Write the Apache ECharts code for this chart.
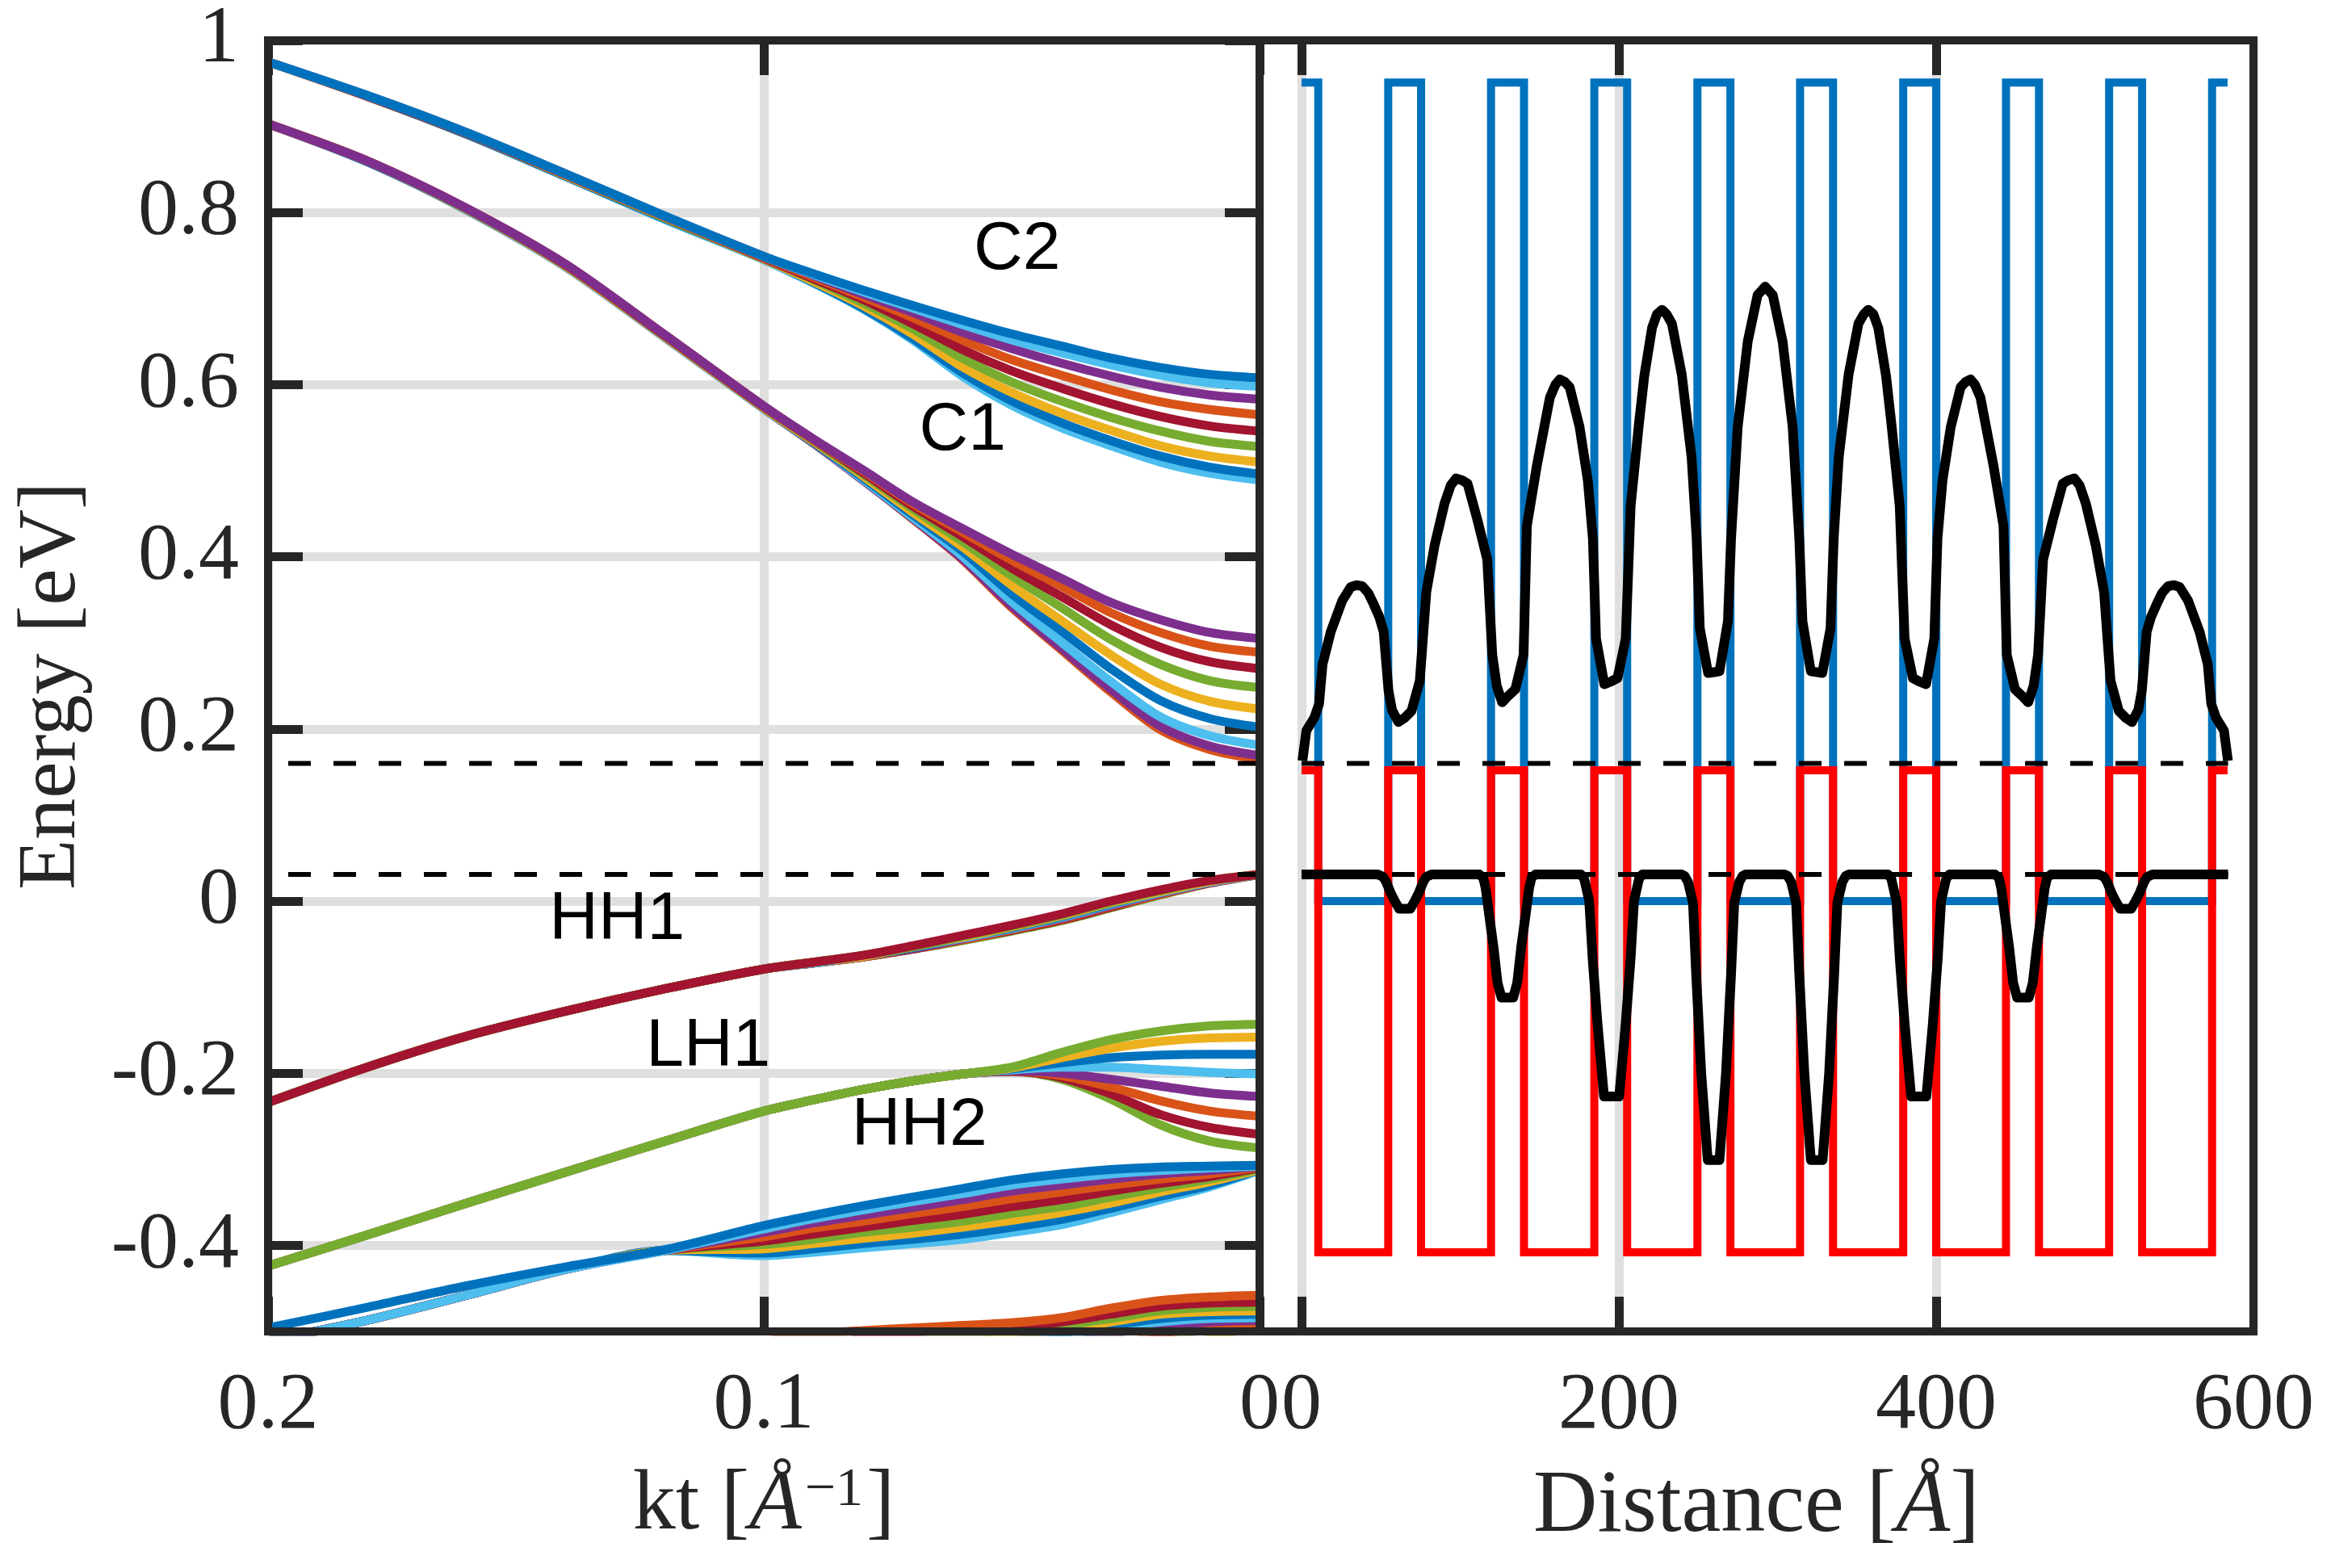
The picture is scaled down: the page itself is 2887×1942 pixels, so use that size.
<!DOCTYPE html>
<html>
<head>
<meta charset="utf-8">
<title>Superlattice band structure</title>
<script src="https://cdn.jsdelivr.net/npm/echarts@6.0.0/dist/echarts.min.js"></script>
<style>
  html, body { margin: 0; padding: 0; background: #fff; }
  #chart { width: 2887px; height: 1942px; }
</style>
</head>
<body>
<div id="chart"></div>
<script>
// kt sample points shared by every dispersion curve [1/Angstrom]
const KT = [0.2, 0.18, 0.16, 0.14, 0.12, 0.1, 0.09, 0.08, 0.07, 0.06, 0.05, 0.04, 0.03, 0.02, 0.01, 0];

const COL = {
  blue: '#0072BD', orange: '#D95319', yellow: '#EDB120', purple: '#7E2F8E',
  green: '#77AC30', lblue: '#4DBEEE', dred: '#A2142F'
};

// C2 miniband, listed top to bottom (at kt = 0)
const c2Colors = ['blue', 'lblue', 'purple', 'orange', 'dred', 'green', 'yellow', 'blue', 'lblue'];
const c2Bands = [
  [0.975, 0.936, 0.893, 0.845, 0.796, 0.749, 0.729, 0.710, 0.692, 0.675, 0.659, 0.645, 0.631, 0.620, 0.612, 0.608],
  [0.975, 0.936, 0.893, 0.845, 0.796, 0.749, 0.728, 0.708, 0.689, 0.670, 0.652, 0.637, 0.623, 0.611, 0.602, 0.598],
  [0.975, 0.936, 0.893, 0.845, 0.796, 0.749, 0.727, 0.705, 0.684, 0.661, 0.642, 0.625, 0.610, 0.597, 0.588, 0.583],
  [0.975, 0.936, 0.893, 0.845, 0.795, 0.748, 0.725, 0.702, 0.678, 0.652, 0.629, 0.611, 0.594, 0.580, 0.571, 0.565],
  [0.975, 0.935, 0.892, 0.844, 0.795, 0.747, 0.723, 0.699, 0.671, 0.641, 0.616, 0.596, 0.578, 0.563, 0.552, 0.546],
  [0.975, 0.935, 0.892, 0.844, 0.794, 0.747, 0.722, 0.695, 0.665, 0.631, 0.603, 0.581, 0.562, 0.546, 0.534, 0.528],
  [0.975, 0.935, 0.892, 0.843, 0.794, 0.746, 0.720, 0.692, 0.659, 0.621, 0.591, 0.567, 0.547, 0.529, 0.517, 0.510],
  [0.975, 0.935, 0.891, 0.842, 0.793, 0.746, 0.719, 0.689, 0.654, 0.614, 0.581, 0.556, 0.535, 0.517, 0.504, 0.496],
  [0.975, 0.935, 0.891, 0.842, 0.792, 0.745, 0.718, 0.688, 0.652, 0.610, 0.576, 0.550, 0.529, 0.510, 0.497, 0.489]
];

// C1 miniband
const c1Colors = ['purple', 'orange', 'dred', 'green', 'yellow', 'blue', 'lblue', 'purple', 'orange'];
const c1Bands = [
  [0.903, 0.860, 0.805, 0.740, 0.658, 0.575, 0.537, 0.501, 0.464, 0.433, 0.403, 0.375, 0.347, 0.327, 0.312, 0.305],
  [0.903, 0.860, 0.805, 0.740, 0.658, 0.575, 0.536, 0.500, 0.462, 0.429, 0.396, 0.366, 0.335, 0.312, 0.296, 0.289],
  [0.903, 0.860, 0.805, 0.739, 0.657, 0.574, 0.536, 0.498, 0.459, 0.424, 0.387, 0.354, 0.321, 0.295, 0.278, 0.270],
  [0.903, 0.860, 0.804, 0.739, 0.657, 0.574, 0.535, 0.496, 0.456, 0.418, 0.378, 0.341, 0.304, 0.275, 0.256, 0.248],
  [0.903, 0.860, 0.804, 0.738, 0.656, 0.573, 0.534, 0.494, 0.452, 0.412, 0.367, 0.326, 0.286, 0.252, 0.232, 0.223],
  [0.903, 0.859, 0.804, 0.738, 0.656, 0.573, 0.533, 0.492, 0.449, 0.407, 0.357, 0.314, 0.270, 0.233, 0.212, 0.202],
  [0.903, 0.859, 0.803, 0.737, 0.655, 0.572, 0.533, 0.490, 0.446, 0.401, 0.348, 0.301, 0.255, 0.214, 0.192, 0.181],
  [0.903, 0.859, 0.803, 0.737, 0.655, 0.572, 0.532, 0.489, 0.445, 0.398, 0.343, 0.294, 0.246, 0.203, 0.180, 0.169],
  [0.903, 0.859, 0.803, 0.737, 0.655, 0.572, 0.532, 0.489, 0.444, 0.397, 0.341, 0.292, 0.243, 0.199, 0.176, 0.165]
];

// HH1 miniband
const hh1Colors = ['dred', 'green', 'yellow', 'blue', 'lblue', 'purple', 'orange', 'dred', 'green'];
const hh1Bands = [
  [-0.234, -0.193, -0.157, -0.128, -0.102, -0.079, -0.071, -0.063, -0.052, -0.040, -0.028, -0.015, 0.000, 0.013, 0.024, 0.031],
  [-0.234, -0.193, -0.157, -0.128, -0.102, -0.079, -0.071, -0.063, -0.053, -0.041, -0.029, -0.016, -0.001, 0.012, 0.024, 0.031],
  [-0.234, -0.193, -0.157, -0.128, -0.102, -0.079, -0.071, -0.064, -0.053, -0.042, -0.030, -0.017, -0.002, 0.011, 0.023, 0.031],
  [-0.234, -0.193, -0.157, -0.128, -0.102, -0.079, -0.071, -0.064, -0.054, -0.042, -0.031, -0.018, -0.003, 0.011, 0.023, 0.031],
  [-0.234, -0.193, -0.157, -0.128, -0.102, -0.079, -0.072, -0.064, -0.054, -0.043, -0.032, -0.019, -0.004, 0.010, 0.022, 0.031],
  [-0.234, -0.193, -0.157, -0.128, -0.102, -0.079, -0.072, -0.064, -0.055, -0.044, -0.032, -0.020, -0.005, 0.009, 0.022, 0.031],
  [-0.234, -0.193, -0.157, -0.128, -0.102, -0.079, -0.072, -0.065, -0.055, -0.045, -0.033, -0.021, -0.006, 0.008, 0.022, 0.031],
  [-0.234, -0.193, -0.157, -0.128, -0.102, -0.079, -0.072, -0.065, -0.056, -0.045, -0.034, -0.022, -0.007, 0.008, 0.021, 0.031],
  [-0.234, -0.193, -0.157, -0.128, -0.102, -0.079, -0.072, -0.065, -0.056, -0.046, -0.035, -0.023, -0.008, 0.007, 0.021, 0.031]
];

// LH1 / HH2 minibands
const lhColors = ['green', 'yellow', 'blue', 'lblue', 'purple', 'orange', 'dred', 'green'];
const lhBands = [
  [-0.424, -0.388, -0.351, -0.315, -0.279, -0.244, -0.231, -0.219, -0.209, -0.201, -0.193, -0.176, -0.161, -0.151, -0.145, -0.143],
  [-0.424, -0.388, -0.351, -0.315, -0.279, -0.244, -0.231, -0.219, -0.209, -0.201, -0.194, -0.182, -0.171, -0.163, -0.159, -0.158],
  [-0.424, -0.388, -0.351, -0.315, -0.279, -0.244, -0.231, -0.219, -0.209, -0.201, -0.195, -0.188, -0.182, -0.179, -0.178, -0.178],
  [-0.424, -0.388, -0.351, -0.315, -0.279, -0.244, -0.231, -0.219, -0.209, -0.201, -0.196, -0.193, -0.193, -0.196, -0.199, -0.201],
  [-0.424, -0.388, -0.351, -0.315, -0.279, -0.244, -0.231, -0.219, -0.209, -0.201, -0.197, -0.200, -0.207, -0.215, -0.223, -0.227],
  [-0.424, -0.388, -0.351, -0.315, -0.279, -0.244, -0.231, -0.219, -0.209, -0.201, -0.197, -0.203, -0.216, -0.232, -0.244, -0.250],
  [-0.424, -0.388, -0.351, -0.315, -0.279, -0.244, -0.231, -0.219, -0.209, -0.201, -0.198, -0.205, -0.224, -0.248, -0.263, -0.271],
  [-0.424, -0.388, -0.351, -0.315, -0.279, -0.244, -0.231, -0.219, -0.209, -0.201, -0.198, -0.207, -0.230, -0.260, -0.279, -0.287]
];

// next hole miniband
const hh3Colors = ['blue', 'lblue', 'purple', 'orange', 'dred', 'green', 'yellow', 'blue', 'lblue'];
const hh3Bands = [
  [-0.496, -0.472, -0.447, -0.425, -0.405, -0.377, -0.365, -0.354, -0.344, -0.334, -0.324, -0.317, -0.312, -0.309, -0.308, -0.307],
  [-0.511, -0.487, -0.458, -0.428, -0.406, -0.381, -0.369, -0.359, -0.349, -0.340, -0.330, -0.323, -0.317, -0.313, -0.310, -0.308],
  [-0.511, -0.487, -0.458, -0.428, -0.406, -0.385, -0.374, -0.365, -0.356, -0.347, -0.337, -0.330, -0.323, -0.317, -0.313, -0.308],
  [-0.511, -0.487, -0.458, -0.428, -0.406, -0.390, -0.380, -0.372, -0.363, -0.355, -0.346, -0.338, -0.330, -0.323, -0.317, -0.309],
  [-0.511, -0.487, -0.458, -0.428, -0.406, -0.395, -0.387, -0.379, -0.371, -0.364, -0.355, -0.347, -0.337, -0.328, -0.320, -0.310],
  [-0.511, -0.487, -0.458, -0.428, -0.406, -0.399, -0.393, -0.385, -0.379, -0.372, -0.363, -0.355, -0.344, -0.333, -0.323, -0.311],
  [-0.511, -0.487, -0.458, -0.428, -0.406, -0.404, -0.398, -0.392, -0.386, -0.379, -0.371, -0.362, -0.351, -0.338, -0.326, -0.312],
  [-0.511, -0.487, -0.458, -0.428, -0.406, -0.409, -0.404, -0.398, -0.393, -0.387, -0.379, -0.370, -0.357, -0.343, -0.330, -0.312],
  [-0.511, -0.487, -0.458, -0.428, -0.406, -0.412, -0.408, -0.403, -0.398, -0.393, -0.385, -0.376, -0.362, -0.347, -0.332, -0.313]
];

// lowest band, mostly below the axis
const lowColors = ['orange', 'dred', 'green', 'yellow', 'blue', 'lblue', 'purple', 'orange', 'dred', 'green', 'yellow'];
const lowBands = [
  [-0.62, -0.60, -0.58, -0.56, -0.535, -0.512, -0.503, -0.499, -0.496, -0.493, -0.490, -0.484, -0.473, -0.464, -0.460, -0.458],
  [-0.64, -0.62, -0.60, -0.58, -0.56, -0.535, -0.52, -0.508, -0.501, -0.497, -0.494, -0.489, -0.480, -0.471, -0.467, -0.466],
  [-0.66, -0.64, -0.62, -0.60, -0.58, -0.56, -0.54, -0.525, -0.512, -0.503, -0.498, -0.493, -0.485, -0.476, -0.472, -0.471],
  [-0.68, -0.66, -0.64, -0.62, -0.60, -0.58, -0.565, -0.55, -0.532, -0.516, -0.505, -0.497, -0.489, -0.480, -0.477, -0.476],
  [-0.70, -0.68, -0.66, -0.64, -0.62, -0.60, -0.585, -0.57, -0.55, -0.53, -0.512, -0.502, -0.493, -0.485, -0.481, -0.480],
  [-0.72, -0.70, -0.68, -0.66, -0.64, -0.62, -0.60, -0.585, -0.565, -0.545, -0.525, -0.507, -0.497, -0.489, -0.485, -0.484],
  [-0.74, -0.72, -0.70, -0.68, -0.66, -0.64, -0.62, -0.60, -0.58, -0.56, -0.54, -0.518, -0.503, -0.494, -0.489, -0.487],
  [-0.76, -0.74, -0.72, -0.70, -0.68, -0.66, -0.64, -0.62, -0.60, -0.58, -0.56, -0.54, -0.52, -0.504, -0.494, -0.490],
  [-0.78, -0.76, -0.74, -0.72, -0.70, -0.68, -0.66, -0.64, -0.62, -0.60, -0.58, -0.56, -0.54, -0.504, -0.492, -0.490],
  [-0.80, -0.78, -0.76, -0.74, -0.72, -0.70, -0.68, -0.66, -0.64, -0.62, -0.60, -0.58, -0.56, -0.515, -0.496, -0.493],
  [-0.82, -0.80, -0.78, -0.76, -0.74, -0.72, -0.70, -0.68, -0.66, -0.64, -0.62, -0.60, -0.58, -0.56, -0.508, -0.497]
];

// reference levels (dashed) [eV]
const electronLevel = 0.16;
const holeLevel = 0.031;

// band labels: text, kt, energy
const bandLabels = [
  ['C2', 0.0489, 0.756],
  ['C1', 0.0599, 0.546],
  ['HH1', 0.1296, -0.022],
  ['LH1', 0.1112, -0.170],
  ['HH2', 0.0686, -0.262]
];

// superlattice layer boundaries [Angstrom] and band edges per layer [eV]
const layerEdges = [0, 10.5, 54.6, 75.3, 119.4, 140.2, 184.5, 205.2, 249.5, 270.3, 314.2, 335, 379.2, 400, 444, 464.8, 509, 529.8, 573.9, 583.7];
const cbEdge = [0.951, 0, 0.951, 0, 0.951, 0, 0.951, 0, 0.951, 0, 0.951, 0, 0.951, 0, 0.951, 0, 0.951, 0, 0.951];
const vbEdge = [0.152, -0.408, 0.152, -0.408, 0.152, -0.408, 0.152, -0.408, 0.152, -0.408, 0.152, -0.408, 0.152, -0.408, 0.152, -0.408, 0.152, -0.408, 0.152];

// electron probability density, offset to its level
const electronDensity = [
  [0.5, 0.163], [3, 0.198], [8, 0.213], [11, 0.229], [13.2, 0.275], [18.4, 0.313], [25.6, 0.349], [31, 0.365], [34.5, 0.367], [38.2, 0.366],
  [42, 0.358], [45.4, 0.345], [49, 0.33], [51.7, 0.313], [54.8, 0.244], [57, 0.222], [61, 0.208], [65, 0.213], [69.3, 0.221], [74.5, 0.256],
  [78.6, 0.359], [83.8, 0.413], [90.1, 0.462], [94, 0.483], [97.3, 0.491], [101, 0.489], [104.6, 0.485], [110.8, 0.443], [117, 0.397], [120.2, 0.286],
  [123, 0.25], [126.4, 0.231], [130, 0.238], [134.7, 0.246], [139.9, 0.286], [142, 0.436], [148.2, 0.505], [156.5, 0.585], [160, 0.6], [162.7, 0.606],
  [166, 0.603], [169, 0.597], [175.2, 0.551], [180.4, 0.489], [183.6, 0.421], [185.6, 0.305], [190.8, 0.252], [195, 0.255], [199.1, 0.259], [204.3, 0.305],
  [207.4, 0.459], [212.6, 0.554], [216, 0.61], [220.9, 0.666], [224, 0.682], [227.2, 0.687], [230, 0.682], [233.4, 0.671], [239.6, 0.612], [245.8, 0.516],
  [249, 0.421], [251, 0.317], [256.2, 0.265], [260, 0.266], [263.4, 0.267], [268.7, 0.325], [270.7, 0.421], [274.9, 0.551], [281.2, 0.65], [287.4, 0.704],
  [292.2, 0.714], [297, 0.704], [303.2, 0.65], [309.5, 0.551], [313.7, 0.421], [315.7, 0.325], [321, 0.267], [324.4, 0.266], [328.2, 0.265], [333.4, 0.317],
  [335.4, 0.421], [338.6, 0.516], [344.8, 0.612], [351, 0.671], [354.4, 0.682], [357.2, 0.687], [360.4, 0.682], [363.5, 0.666], [368.4, 0.61], [371.8, 0.554],
  [377, 0.459], [380.1, 0.305], [385.3, 0.259], [389.4, 0.255], [393.6, 0.252], [398.8, 0.305], [400.8, 0.421], [404, 0.489], [409.2, 0.551], [415.4, 0.597],
  [418.4, 0.603], [421.7, 0.606], [424.4, 0.6], [427.9, 0.585], [436.2, 0.505], [442.4, 0.436], [444.5, 0.286], [449.7, 0.246], [454.4, 0.238], [458, 0.231],
  [461.4, 0.25], [464.2, 0.286], [467.4, 0.397], [473.6, 0.443], [479.8, 0.485], [483.4, 0.489], [487.1, 0.491], [490.4, 0.483], [494.3, 0.462], [500.6, 0.413],
  [505.8, 0.359], [509.9, 0.256], [515.1, 0.221], [519.4, 0.213], [523.4, 0.208], [527.4, 0.222], [529.6, 0.244], [532.7, 0.313], [535.4, 0.33], [539, 0.345],
  [542.4, 0.358], [546.2, 0.366], [549.9, 0.367], [553.4, 0.365], [558.8, 0.349], [566, 0.313], [571.2, 0.275], [573.4, 0.229], [576.4, 0.213], [581.4, 0.198],
  [583.9, 0.163]
];

// hole probability density, drawn downwards from its level
const holeDensity = [
  [0, 0.031], [48, 0.031], [51.5, 0.028], [53.4, 0.022], [56, 0.01], [58.7, 0.0], [61.5, -0.009], [68.5, -0.009], [71.3, 0.0], [74, 0.01], [76.6, 0.022], [78.5, 0.028], [82, 0.031],
  [112, 0.031], [114.5, 0.027], [116, 0.015], [118.5, -0.02], [121, -0.054], [123.5, -0.095], [126, -0.112], [133.4, -0.112], [135.9, -0.095], [138.4, -0.054], [140.9, -0.02], [143.4, 0.015], [144.9, 0.027], [147.4, 0.031],
  [176, 0.031], [178.1, 0.026], [181.3, 0.0], [183.4, -0.066], [186.5, -0.142], [190.6, -0.227], [200.2, -0.227], [204.3, -0.142], [207.4, -0.066], [209.5, 0.0], [212.7, 0.026], [214.8, 0.031],
  [239.5, 0.031], [241.5, 0.029], [243.6, 0.022], [246.7, -0.002], [248.7, -0.085], [251.9, -0.2], [256, -0.301], [263.4, -0.301], [267.5, -0.2], [270.7, -0.085], [272.7, -0.002], [275.8, 0.022], [277.9, 0.029], [280, 0.031],
  [304.4, 0.031], [306.5, 0.029], [308.6, 0.022], [311.7, -0.002], [313.7, -0.085], [316.9, -0.2], [321, -0.301], [328.4, -0.301], [332.5, -0.2], [335.7, -0.085], [337.7, -0.002], [340.8, 0.022], [342.9, 0.029], [344.9, 0.031],
  [369.6, 0.031], [371.7, 0.026], [374.9, 0.0], [377, -0.066], [380.1, -0.142], [384.2, -0.227], [393.8, -0.227], [397.9, -0.142], [401, -0.066], [403.1, 0.0], [406.3, 0.026], [408.4, 0.031],
  [437, 0.031], [439.5, 0.027], [441, 0.015], [443.5, -0.02], [446, -0.054], [448.5, -0.095], [451, -0.112], [458.4, -0.112], [460.9, -0.095], [463.4, -0.054], [465.9, -0.02], [468.4, 0.015], [469.9, 0.027], [472.4, 0.031],
  [502.4, 0.031], [505.9, 0.028], [507.8, 0.022], [510.4, 0.01], [513.1, 0.0], [515.9, -0.009], [522.9, -0.009], [525.7, 0.0], [528.4, 0.01], [531, 0.022], [532.9, 0.028], [536.4, 0.031],
  [584, 0.031]
];

const energyTicks = [-0.4, -0.2, 0, 0.2, 0.4, 0.6, 0.8, 1];
const distanceTicks = [0, 200, 400];
const distanceLabels = [0, 200, 400, 600];

// ---------- layout (px) ----------
const TOP = 50, BOTTOM = 1649;
const LEFT_L = 332, SPLIT = 1560, RIGHT_R = 2791;
const FRAME = '#262626';
const SERIF = 'Liberation Serif';
const SANS = 'Liberation Sans';

const chart = echarts.init(document.getElementById('chart'));

// step outline of a band edge from the layer table
function stepLine(edges, levels) {
  const pts = [];
  for (let i = 0; i < levels.length; i++) {
    pts.push([edges[i], levels[i]]);
    pts.push([edges[i + 1], levels[i]]);
  }
  return pts;
}

function bandSeries(bands, colors) {
  // draw lowest first so the upper curve of a group sits on top
  const out = [];
  for (let i = bands.length - 1; i >= 0; i--) {
    out.push({
      type: 'line',
      xAxisIndex: 0, yAxisIndex: 0,
      data: KT.map((k, j) => [k, bands[i][j]]),
      symbol: 'none',
      smooth: 0.3,
      silent: true,
      lineStyle: { color: COL[colors[i]], width: 11, join: 'round' }
    });
  }
  return out;
}

const noLine = { show: false, onZero: false };
const tickStyle = { inside: true, length: 43, lineStyle: { color: FRAME, width: 11 } };
const labelStyle = { color: FRAME, fontFamily: SERIF, fontSize: 100 };
const gridLine = { show: true, lineStyle: { color: '#dfdfdf', width: 11 } };

const series = [].concat(
  bandSeries(lowBands, lowColors),
  bandSeries(hh3Bands, hh3Colors),
  bandSeries(lhBands, lhColors),
  bandSeries(hh1Bands, hh1Colors),
  bandSeries(c1Bands, c1Colors),
  bandSeries(c2Bands, c2Colors),
  [
    {
      type: 'line', xAxisIndex: 0, yAxisIndex: 0, symbol: 'none', silent: true,
      data: [[0.2, electronLevel], [0, electronLevel]],
      lineStyle: { color: '#000', width: 6, type: [28, 28], dashOffset: 31 }
    },
    {
      type: 'line', xAxisIndex: 0, yAxisIndex: 0, symbol: 'none', silent: true,
      data: [[0.2, holeLevel], [0, holeLevel]],
      lineStyle: { color: '#000', width: 6, type: [28, 28], dashOffset: 31 }
    },
    {
      type: 'scatter', xAxisIndex: 0, yAxisIndex: 0, silent: true,
      symbolSize: 0,
      itemStyle: { opacity: 1 },
      data: bandLabels.map(d => ({ value: [d[1], d[2]], name: d[0] })),
      label: {
        show: true, position: 'inside', formatter: p => p.name,
        color: '#000', fontFamily: SANS, fontSize: 84
      },
      z: 5
    },
    // right panel: band edges and densities
    {
      type: 'line', xAxisIndex: 2, yAxisIndex: 2, symbol: 'none', silent: true,
      data: stepLine(layerEdges, cbEdge),
      lineStyle: { color: '#0072BD', width: 10, join: 'miter' }
    },
    {
      type: 'line', xAxisIndex: 2, yAxisIndex: 2, symbol: 'none', silent: true,
      data: stepLine(layerEdges, vbEdge),
      lineStyle: { color: '#FF0000', width: 10, join: 'miter' }
    },
    {
      type: 'line', xAxisIndex: 2, yAxisIndex: 2, symbol: 'none', silent: true,
      data: [[0, electronLevel], [584, electronLevel]],
      lineStyle: { color: '#000', width: 6, type: [28, 28] }
    },
    {
      type: 'line', xAxisIndex: 2, yAxisIndex: 2, symbol: 'none', silent: true,
      data: [[0, holeLevel], [584, holeLevel]],
      lineStyle: { color: '#000', width: 6, type: [28, 28] }
    },
    {
      type: 'line', xAxisIndex: 2, yAxisIndex: 2, symbol: 'none', silent: true,
      data: electronDensity,
      lineStyle: { color: '#000', width: 12, join: 'round' }
    },
    {
      type: 'line', xAxisIndex: 2, yAxisIndex: 2, symbol: 'none', silent: true,
      data: holeDensity,
      lineStyle: { color: '#000', width: 12, join: 'round' }
    }
  ]
);

const option = {
  animation: false,
  backgroundColor: '#fff',
  grid: [
    { left: LEFT_L, top: TOP, width: SPLIT - LEFT_L, height: BOTTOM - TOP },
    { left: SPLIT, top: TOP, width: RIGHT_R - SPLIT, height: BOTTOM - TOP }
  ],
  xAxis: [
    {
      gridIndex: 0, type: 'value', position: 'bottom', inverse: true,
      min: 0, max: 0.2, interval: 0.1,
      axisLine: noLine,
      axisTick: tickStyle,
      axisLabel: Object.assign({ margin: 43 }, labelStyle),
      splitLine: gridLine,
      name: '{t|kt [}{i|Å}{s|−1}{t|]}',
      nameLocation: 'middle', nameGap: 163,
      nameTextStyle: {
        color: FRAME, fontFamily: SERIF, fontSize: 106,
        rich: {
          t: { color: FRAME, fontFamily: SERIF, fontSize: 106 },
          i: { color: FRAME, fontFamily: SERIF, fontSize: 106, fontStyle: 'italic' },
          s: { color: FRAME, fontFamily: SERIF, fontSize: 68, verticalAlign: 'top', padding: [0, 4, 0, 4] }
        }
      }
    },
    {
      gridIndex: 0, type: 'value', position: 'top', inverse: true,
      min: 0, max: 0.2, interval: 0.1,
      axisLine: noLine, axisTick: tickStyle,
      axisLabel: { show: false }, splitLine: { show: false }
    },
    {
      gridIndex: 1, type: 'value', position: 'bottom',
      min: -26.5, max: 600,
      axisLine: noLine,
      axisTick: Object.assign({ customValues: distanceTicks }, tickStyle),
      axisLabel: Object.assign({ margin: 43, customValues: distanceLabels }, labelStyle),
      splitLine: gridLine,
      name: '{t|Distance [}{i|Å}{t|]}',
      nameLocation: 'middle', nameGap: 163,
      nameTextStyle: {
        color: FRAME, fontFamily: SERIF, fontSize: 110,
        rich: {
          t: { color: FRAME, fontFamily: SERIF, fontSize: 110 },
          i: { color: FRAME, fontFamily: SERIF, fontSize: 110, fontStyle: 'italic' }
        }
      }
    },
    {
      gridIndex: 1, type: 'value', position: 'top',
      min: -26.5, max: 600,
      axisLine: noLine,
      axisTick: Object.assign({ customValues: distanceTicks }, tickStyle),
      axisLabel: { show: false }, splitLine: { show: false }
    }
  ],
  yAxis: [
    {
      gridIndex: 0, type: 'value', position: 'left',
      min: -0.5, max: 1,
      axisLine: noLine,
      axisTick: Object.assign({ customValues: energyTicks }, tickStyle),
      axisLabel: Object.assign({ margin: 36, customValues: energyTicks }, labelStyle),
      splitLine: gridLine,
      name: 'Energy [eV]', nameLocation: 'middle', nameGap: 216,
      nameTextStyle: { color: FRAME, fontFamily: SERIF, fontSize: 102 }
    },
    {
      gridIndex: 0, type: 'value', position: 'right',
      min: -0.5, max: 1,
      axisLine: noLine,
      axisTick: Object.assign({ customValues: energyTicks }, tickStyle),
      axisLabel: { show: false }, splitLine: { show: false }
    },
    {
      gridIndex: 1, type: 'value', position: 'left',
      min: -0.5, max: 1,
      axisLine: noLine, axisTick: { show: false },
      axisLabel: { show: false }, splitLine: { show: false }
    }
  ],
  graphic: [
    {
      type: 'rect', z: 100, silent: true,
      shape: { x: LEFT_L, y: TOP, width: RIGHT_R - LEFT_L, height: BOTTOM - TOP },
      style: { fill: null, stroke: FRAME, lineWidth: 10 }
    },
    {
      type: 'line', z: 100, silent: true,
      shape: { x1: SPLIT, y1: TOP, x2: SPLIT, y2: BOTTOM },
      style: { stroke: FRAME, lineWidth: 10 }
    }
  ],
  series: series
};

chart.setOption(option);
</script>
</body>
</html>
